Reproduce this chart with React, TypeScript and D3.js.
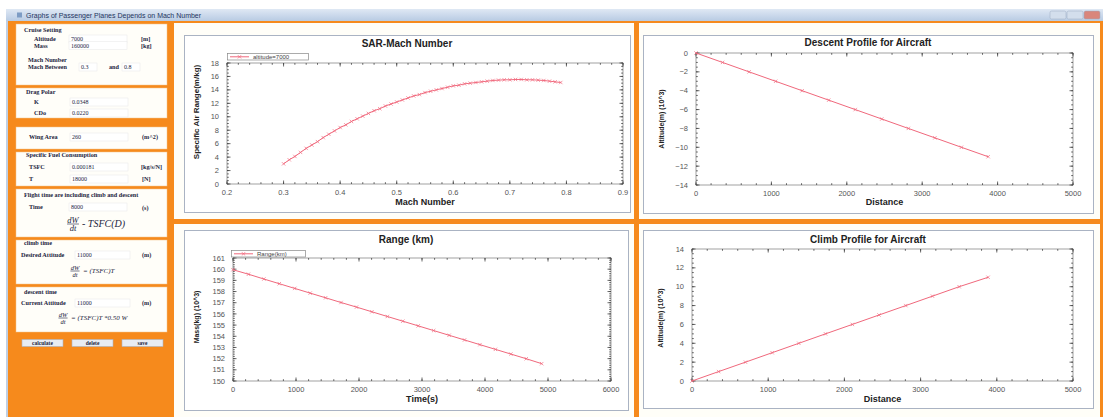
import React, { useRef, useEffect } from "react";
import * as d3 from "d3";

// SAR - Mach number (altitude = 7000)
const SAR_MACH = [
  0.3, 0.31, 0.32, 0.33, 0.34, 0.35, 0.36, 0.37, 0.38, 0.39,
  0.4, 0.41, 0.42, 0.43, 0.44, 0.45, 0.46, 0.47, 0.48, 0.49,
  0.5, 0.51, 0.52, 0.53, 0.54, 0.55, 0.56, 0.57, 0.58, 0.59,
  0.6, 0.61, 0.62, 0.63, 0.64, 0.65, 0.66, 0.67, 0.68, 0.69,
  0.7, 0.71, 0.72, 0.73, 0.74, 0.75, 0.76, 0.77, 0.78, 0.79,
];
const SAR_VALUES = [
  3.0, 3.6, 4.1, 4.7, 5.3, 5.8, 6.3, 6.9, 7.4, 7.9,
  8.4, 8.8, 9.3, 9.7, 10.1, 10.5, 10.9, 11.2, 11.6, 11.9,
  12.2, 12.5, 12.8, 13.1, 13.3, 13.6, 13.8, 14.0, 14.2, 14.4,
  14.6, 14.7, 14.9, 15.0, 15.1, 15.2, 15.3, 15.4, 15.45, 15.5,
  15.5, 15.55, 15.55, 15.5, 15.5, 15.45, 15.4, 15.3, 15.2, 15.1,
];

// descent profile
const DESCENT_DISTANCE = [0, 352, 704, 1056, 1408, 1760, 2112, 2464, 2816, 3168, 3520, 3875];
const DESCENT_ALTITUDE = [0, -1, -2, -3, -4, -5, -6, -7, -8, -9, -10, -11];

// climb profile
const CLIMB_DISTANCE = [0, 350, 702, 1052, 1402, 1752, 2104, 2454, 2806, 3156, 3506, 3886];
const CLIMB_ALTITUDE = [0, 1, 2, 3, 4, 5, 6, 7, 8, 9, 10, 11];

// range (mass over time)
const RANGE_TIME = [
  0, 245, 490, 735, 980, 1225, 1470, 1715, 1960, 2205, 2450,
  2695, 2940, 3185, 3430, 3675, 3920, 4165, 4410, 4655, 4900,
];
const RANGE_MASS = [
  159.95, 159.55, 159.12, 158.7, 158.28, 157.86, 157.44, 157.02, 156.61, 156.19, 155.77,
  155.35, 154.93, 154.51, 154.09, 153.67, 153.25, 152.83, 152.41, 151.99, 151.55,
];

const ORANGE = "#f68a1c";
const LINE = "#f0687c";
const SANS = "'Liberation Sans', Arial, sans-serif";
const SERIF = "'Liberation Serif', 'Times New Roman', serif";
const INK = "#1c2440";

const charts = [
  {
    panel: [174, 23, 460, 196], frame: [184, 35, 446, 177], plot: [227, 623, 63, 184],
    xDomain: [0.2, 0.9], xCount: 7, xMinor: 35, xFmt: d3.format(".1f"),
    yDomain: [0, 18], yCount: 9, yMinor: 36,
    title: "SAR-Mach Number", titleY: 47,
    xLabel: "Mach Number", xLabelY: 205,
    yLabel: "Specific Air Range(m/kg)", yLabelX: 199, yLabelY: 112, yLabelSize: 8,
    legend: { x: 227, y: 53, w: 81, text: "altitude=7000" },
    xs: SAR_MACH, ys: SAR_VALUES,
  },
  {
    panel: [639, 23, 461, 196], frame: [643, 35, 450, 178], plot: [696, 1073, 53, 185],
    xDomain: [0, 5000], xCount: 5, xMinor: 25, xFmt: d3.format("d"),
    yDomain: [-14, 0], yCount: 7, yMinor: 28,
    title: "Descent Profile for Aircraft", titleY: 46,
    xLabel: "Distance", xLabelY: 205,
    yLabel: "Altitude(m) (10^3)", yLabelX: 664, yLabelY: 119, yLabelSize: 7,
    legend: null,
    xs: DESCENT_DISTANCE, ys: DESCENT_ALTITUDE,
  },
  {
    panel: [174, 224, 460, 193], frame: [184, 230, 444, 180], plot: [233, 611, 258, 381],
    xDomain: [0, 6000], xCount: 6, xMinor: 30, xFmt: d3.format("d"),
    yDomain: [150, 161], yCount: 11, yMinor: 44,
    title: "Range (km)", titleY: 243,
    xLabel: "Time(s)", xLabelY: 402,
    yLabel: "Mass(kg) (10^3)", yLabelX: 199, yLabelY: 317, yLabelSize: 7,
    legend: { x: 231, y: 250, w: 74, text: "Range(km)" },
    xs: RANGE_TIME, ys: RANGE_MASS,
  },
  {
    panel: [639, 224, 461, 193], frame: [643, 230, 450, 178], plot: [692, 1073, 249, 381],
    xDomain: [0, 5000], xCount: 5, xMinor: 25, xFmt: d3.format("d"),
    yDomain: [0, 14], yCount: 7, yMinor: 28,
    title: "Climb Profile for Aircraft", titleY: 243,
    xLabel: "Distance", xLabelY: 402,
    yLabel: "Altitude(m) (10^3)", yLabelX: 663, yLabelY: 318, yLabelSize: 7,
    legend: null,
    xs: CLIMB_DISTANCE, ys: CLIMB_ALTITUDE,
  },
];

// left side form: [x, y, text, bold]
const formTexts = [
  [24, 32, "Cruise Setting", true],
  [34, 41, "Altitude", true], [141, 41, "[m]", true],
  [34, 47.5, "Mass", true], [141, 47.5, "[kg]", true],
  [28, 62, "Mach Number", true],
  [28, 69, "Mach Between", true], [109, 69, "and", true],
  [26, 94, "Drag Polar", true],
  [34, 104, "K", true], [34, 115, "CDo", true],
  [29, 139, "Wing Area", true], [142, 139, "(m^2)", true],
  [26, 157, "Specific Fuel Consumption", true],
  [29, 169, "TSFC", true], [141, 169, "[kg/s/N]", true],
  [29, 181, "T", true], [142, 181, "[N]", true],
  [24, 197, "Flight time are including climb and descent", true],
  [29, 209, "Time", true], [142, 210, "(s)", true],
  [24, 245, "climb time", true],
  [21, 257, "Desired Attitude", true], [142, 257, "(m)", true],
  [24, 294, "descent time", true],
  [21, 305, "Current Attitude", true], [142, 305, "(m)", true],
];
// [x, y, value, field width]
const formInputs = [
  [71, 41, "7000", 58], [71, 47.5, "160000", 58], [81, 69, "0.3", 18], [124, 69, "0.8", 18],
  [72, 104, "0.0348", 58], [72, 115, "0.0220", 58], [72, 139, "260", 58],
  [72, 169, "0.000181", 58], [72, 181, "18000", 58], [71, 209, "8000", 58],
  [77, 257, "11000", 55], [77, 305, "11000", 55],
];
const formBoxes = [[24, 85], [88, 118], [127, 149], [152, 186], [189, 237], [240, 284], [287, 332]];
const buttons = [[22, "calculate"], [72, "delete"], [122, "save"]];

function drawChart(svg, c) {
  const g = svg.append("g");
  const [px, py, pw, ph] = c.panel;
  g.append("rect").attr("x", px).attr("y", py).attr("width", pw).attr("height", ph).attr("fill", "#fffef8");
  const [fx, fy, fw, fh] = c.frame;
  g.append("rect").attr("x", fx + 0.5).attr("y", fy + 0.5).attr("width", fw).attr("height", fh)
    .attr("fill", "#ffffff").attr("stroke", "#aab3c3");

  const [x0, x1, y0, y1] = c.plot;
  const x = d3.scaleLinear().domain(c.xDomain).range([x0, x1]);
  const y = d3.scaleLinear().domain(c.yDomain).range([y1, y0]);

  // plot border
  g.append("rect").attr("x", x0).attr("y", y0).attr("width", x1 - x0).attr("height", y1 - y0)
    .attr("fill", "none").attr("stroke", "#8a8a8a").attr("stroke-width", 0.8);

  // ticks on all four sides, pointing inward
  const tk = g.append("g").attr("stroke", "#444").attr("stroke-width", 0.8);
  const tickX = (vals, len) => {
    vals.forEach((v) => {
      tk.append("line").attr("x1", x(v)).attr("x2", x(v)).attr("y1", y1).attr("y2", y1 - len);
      tk.append("line").attr("x1", x(v)).attr("x2", x(v)).attr("y1", y0).attr("y2", y0 + len);
    });
  };
  const tickY = (vals, len) => {
    vals.forEach((v) => {
      tk.append("line").attr("y1", y(v)).attr("y2", y(v)).attr("x1", x0).attr("x2", x0 + len);
      tk.append("line").attr("y1", y(v)).attr("y2", y(v)).attr("x1", x1).attr("x2", x1 - len);
    });
  };
  tickX(x.ticks(c.xMinor), 1.8);
  tickY(y.ticks(c.yMinor), 1.8);
  tickX(x.ticks(c.xCount), 3.5);
  tickY(y.ticks(c.yCount), 3.5);

  // tick labels
  g.append("g").selectAll("text").data(x.ticks(c.xCount)).join("text")
    .attr("x", (d) => x(d)).attr("y", y1 + 11).attr("text-anchor", "middle")
    .attr("font-family", SANS).attr("font-size", 7.5).attr("fill", "#555")
    .text((d) => c.xFmt(d));
  g.append("g").selectAll("text").data(y.ticks(c.yCount)).join("text")
    .attr("x", x0 - 8).attr("y", (d) => y(d) + 2.6).attr("text-anchor", "end")
    .attr("font-family", SANS).attr("font-size", 7.5).attr("fill", "#555")
    .text((d) => d3.format("d")(d));

  // titles
  g.append("text").attr("x", fx + fw / 2).attr("y", c.titleY).attr("text-anchor", "middle")
    .attr("font-family", SANS).attr("font-size", 10).attr("font-weight", "bold").attr("fill", "#222")
    .text(c.title);
  g.append("text").attr("x", (x0 + x1) / 2).attr("y", c.xLabelY).attr("text-anchor", "middle")
    .attr("font-family", SANS).attr("font-size", 9).attr("font-weight", "bold").attr("fill", "#222")
    .text(c.xLabel);
  g.append("text").attr("transform", `translate(${c.yLabelX},${c.yLabelY}) rotate(-90)`)
    .attr("text-anchor", "middle").attr("font-family", SANS).attr("font-size", c.yLabelSize)
    .attr("font-weight", "bold").attr("fill", "#222").text(c.yLabel);

  // the series
  const pts = c.xs.map((v, i) => [v, c.ys[i]]);
  const line = d3.line().x((d) => x(d[0])).y((d) => y(d[1]));
  g.append("path").datum(pts).attr("fill", "none").attr("stroke", LINE).attr("stroke-width", 1)
    .attr("d", line);
  const marker = d3.symbol().type(d3.symbolX).size(9);
  g.append("g").selectAll("path").data(pts).join("path")
    .attr("transform", (d) => `translate(${x(d[0])},${y(d[1])})`)
    .attr("d", marker).attr("fill", "none").attr("stroke", LINE).attr("stroke-width", 0.7);

  // legend
  if (c.legend) {
    const L = c.legend;
    g.append("rect").attr("x", L.x + 0.5).attr("y", L.y + 0.5).attr("width", L.w).attr("height", 6.5)
      .attr("fill", "#fff").attr("stroke", "#888").attr("stroke-width", 0.7);
    g.append("line").attr("x1", L.x + 3).attr("x2", L.x + 22).attr("y1", L.y + 3.8).attr("y2", L.y + 3.8)
      .attr("stroke", LINE).attr("stroke-width", 1);
    g.append("path").attr("transform", `translate(${L.x + 12.5},${L.y + 3.8})`).attr("d", marker)
      .attr("fill", "none").attr("stroke", LINE).attr("stroke-width", 0.7);
    g.append("text").attr("x", L.x + 26).attr("y", L.y + 6).attr("font-family", SANS)
      .attr("font-size", 6).attr("fill", "#444").text(L.text);
  }
}

function fraction(g, x, y, size) {
  const t = g.append("g").attr("font-family", SERIF).attr("font-style", "italic")
    .attr("font-size", size).attr("fill", INK).attr("text-anchor", "middle");
  t.append("text").attr("x", x).attr("y", y - 1.5).text("dW");
  t.append("line").attr("x1", x - size * 0.7).attr("x2", x + size * 0.7).attr("y1", y).attr("y2", y)
    .attr("stroke", INK).attr("stroke-width", 0.6);
  t.append("text").attr("x", x).attr("y", y + size * 0.85).text("dt");
}

const App = () => {
  const svgRef = useRef(null);

  useEffect(() => {
    const svg = d3.select(svgRef.current);
    svg.selectAll("*").remove();

    // window background
    svg.append("rect").attr("width", 1103).attr("height", 417).attr("fill", "#ffffff");
    const grad = svg.append("defs").append("linearGradient").attr("id", "bar").attr("x1", 0).attr("x2", 0).attr("y1", 0).attr("y2", 1);
    grad.append("stop").attr("offset", "0%").attr("stop-color", "#dfe8f4");
    grad.append("stop").attr("offset", "100%").attr("stop-color", "#b8cbe3");
    svg.append("rect").attr("x", 6).attr("y", 9).attr("width", 1097).attr("height", 408).attr("fill", "#bfcfe4");
    svg.append("rect").attr("x", 6).attr("y", 9).attr("width", 1097).attr("height", 12).attr("fill", "url(#bar)");
    svg.append("rect").attr("x", 17).attr("y", 12.5).attr("width", 5).attr("height", 5).attr("fill", "#7d9cc4");
    svg.append("text").attr("x", 26).attr("y", 18).attr("font-family", SANS).attr("font-size", 7)
      .attr("fill", "#1f3560").text("Graphs of Passenger Planes Depends on Mach Number");
    [[1050, "#d3deec"], [1067, "#d3deec"], [1084, "#d9867c"]].forEach(([bx, col]) => {
      svg.append("rect").attr("x", bx).attr("y", 11).attr("width", 16).attr("height", 8).attr("rx", 1.5)
        .attr("fill", col).attr("stroke", "#9aaac0").attr("stroke-width", 0.5);
    });
    svg.append("rect").attr("x", 8).attr("y", 21).attr("width", 1095).attr("height", 396).attr("fill", ORANGE);

    // left form
    const form = svg.append("g");
    formBoxes.forEach(([a, b]) => {
      form.append("rect").attr("x", 16).attr("y", a).attr("width", 151).attr("height", b - a)
        .attr("fill", "#fffef9").attr("stroke", "#f3c48c").attr("stroke-width", 0.5);
    });
    formInputs.forEach(([ix, iy, v, w]) => {
      form.append("rect").attr("x", ix - 2).attr("y", iy - 6).attr("width", w).attr("height", 8)
        .attr("fill", "#fff").attr("stroke", "#ececec").attr("stroke-width", 0.6);
      form.append("text").attr("x", ix).attr("y", iy).attr("font-family", SERIF).attr("font-size", 6)
        .attr("fill", INK).text(v);
    });
    formTexts.forEach(([tx, ty, s, b]) => {
      form.append("text").attr("x", tx).attr("y", ty).attr("font-family", SERIF).attr("font-size", 6.2)
        .attr("font-weight", b ? "bold" : "normal").attr("fill", INK).text(s);
    });
    fraction(form, 73, 224, 8.5);
    form.append("text").attr("x", 82).attr("y", 227).attr("font-family", SERIF).attr("font-style", "italic")
      .attr("font-size", 10).attr("fill", INK).text("- TSFC(D)");
    fraction(form, 75, 271, 6.5);
    form.append("text").attr("x", 83).attr("y", 273).attr("font-family", SERIF).attr("font-style", "italic")
      .attr("font-size", 7).attr("fill", INK).text("= (TSFC)T");
    fraction(form, 63, 318, 6.5);
    form.append("text").attr("x", 71).attr("y", 320).attr("font-family", SERIF).attr("font-style", "italic")
      .attr("font-size", 7).attr("fill", INK).text("= (TSFC)T     *0.50 W");
    buttons.forEach(([bx, s]) => {
      form.append("rect").attr("x", bx).attr("y", 339.5).attr("width", 41).attr("height", 7)
        .attr("fill", "#e8ecf2").attr("stroke", "#aab2bf").attr("stroke-width", 0.6);
      form.append("text").attr("x", bx + 20.5).attr("y", 345).attr("text-anchor", "middle")
        .attr("font-family", SERIF).attr("font-size", 5.5).attr("font-weight", "bold").attr("fill", INK).text(s);
    });

    // the four charts
    charts.forEach((c) => drawChart(svg, c));
  }, []);

  return (
    <svg ref={svgRef} width={1103} height={417}
      style={{ position: "absolute", left: 0, top: 0, display: "block" }} />
  );
};

export default App;
